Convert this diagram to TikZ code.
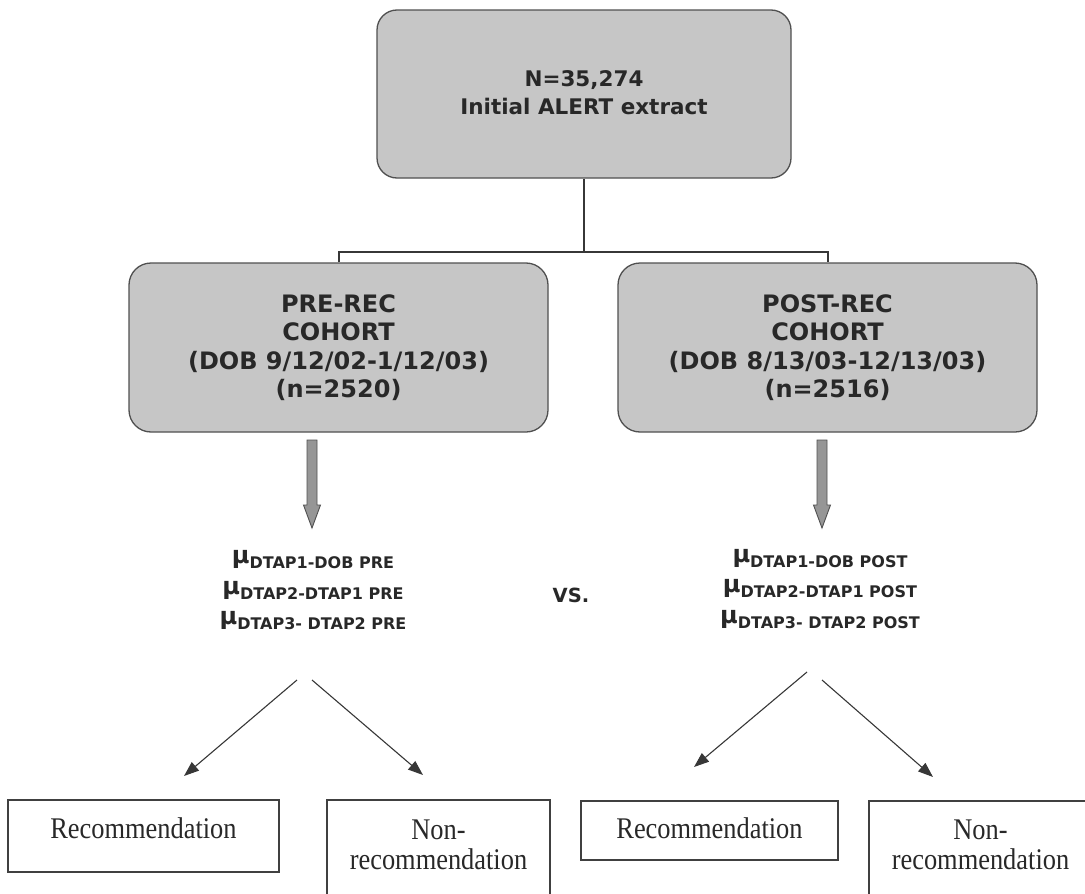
\documentclass[tikz,border=0pt]{standalone}
\usepackage{fontspec}
\setmainfont{Liberation Serif}
\newfontfamily\dvb{DejaVu Sans}
\newfontfamily\tnr[FakeStretch=0.88]{Liberation Serif}
\usetikzlibrary{arrows.meta}
\definecolor{boxfill}{RGB}{198,198,198}
\definecolor{boxline}{RGB}{80,80,80}
\definecolor{garrowfill}{RGB}{150,150,150}
\definecolor{linecol}{RGB}{55,55,55}
\definecolor{txt}{RGB}{40,40,40}
\newcommand{\mut}[1]{{\fontsize{24}{24}\selectfont μ}\raisebox{-5pt}{\fontsize{16}{16}\selectfont #1}}
\begin{document}
\begin{tikzpicture}[x=1pt,y=-1pt,
  grbox/.style={draw=boxline, line width=1.3pt, fill=boxfill, rounded corners=22pt,
    minimum width=419pt, minimum height=169pt, align=center, inner sep=0pt,
    font=\dvb\bfseries\fontsize{24}{28.5}\selectfont, text=txt},
  conn/.style={draw=linecol, line width=2pt},
  thinarrow/.style={draw=linecol, line width=1.1pt, -{Triangle[length=15pt,width=11pt]}},
  outbox/.style={draw=black!75, line width=1.2pt, inner sep=0pt},
  outtext/.style={font=\tnr\fontsize{30}{30}\selectfont, text=txt, align=center, inner sep=0pt},
  mutext/.style={font=\dvb\bfseries, text=txt, align=center, inner sep=0pt},
  garrow/.pic={\draw[draw=boxline, fill=garrowfill, line width=0.9pt]
    (-5,0) -- (5,0) -- (5,65) -- (8.5,65) -- (0,88) -- (-8.5,65) -- (-5,65) -- cycle;}
]
\useasboundingbox (0,0) rectangle (1085,894);
\clip (0,0) rectangle (1085,894);

% top and cohort boxes
\node[grbox, minimum width=414pt, minimum height=168pt, rounded corners=20pt,
  font=\dvb\bfseries\fontsize{21.5}{28}\selectfont] (top) at (584,94)
  {N=35,274\\Initial ALERT extract\rule[-3pt]{0pt}{1pt}};
\node[grbox] (pre) at (338.5,347.5)
  {PRE-REC\\COHORT\\(DOB 9/12/02-1/12/03)\\(n=2520)};
\node[grbox] (post) at (827.5,347.5)
  {POST-REC\\COHORT\\(DOB 8/13/03-12/13/03)\\(n=2516)};

\draw[conn] (top.south) -- ++(0,73) coordinate (j);
\draw[conn] (pre.north) |- (j) -| (post.north);

% gray block arrows
\pic at (312,440) {garrow};
\pic at (822,440) {garrow};

% mu texts
\node[mutext] (mupre) at (313,590)
  {\mut{DTAP1-DOB PRE}\\[11pt]\mut{DTAP2-DTAP1 PRE}\\[11pt]\mut{DTAP3- DTAP2 PRE}};
\node[mutext] (mupost) at (820,589)
  {\mut{DTAP1-DOB POST}\\[11pt]\mut{DTAP2-DTAP1 POST}\\[11pt]\mut{DTAP3- DTAP2 POST}};
\node[mutext, font=\dvb\bfseries\fontsize{19.5}{19.5}\selectfont] (vs) at (571,595) {VS.};

% bottom boxes
\node[outbox, minimum width=271pt, minimum height=72pt] (rec1) at (143.5,836) {};
\node[outbox, minimum width=223pt, minimum height=100pt] (non1) at (438.5,850) {};
\node[outbox, minimum width=257pt, minimum height=59pt] (rec2) at (709.5,830.5) {};
\node[outbox, minimum width=223pt, minimum height=100pt] (non2) at (980.5,851) {};

\node[outtext] (rec1t) at (143.5,828) {Recommendation};
\node[outtext] (non1t) at (438.5,845) {Non-\\recommendation};
\node[outtext] (rec2t) at (709.5,828) {Recommendation};
\node[outtext] (non2t) at (980.5,845) {Non-\\recommendation};

% thin arrows
\coordinate (a1s) at (297,680); \coordinate (a1e) at (184,776);
\coordinate (a2s) at (312,680); \coordinate (a2e) at (423,775);
\coordinate (a3s) at (807,672); \coordinate (a3e) at (694,767);
\coordinate (a4s) at (822,680); \coordinate (a4e) at (933,777);
\draw[thinarrow] (a1s) -- (a1e);
\draw[thinarrow] (a2s) -- (a2e);
\draw[thinarrow] (a3s) -- (a3e);
\draw[thinarrow] (a4s) -- (a4e);
\end{tikzpicture}
\end{document}
